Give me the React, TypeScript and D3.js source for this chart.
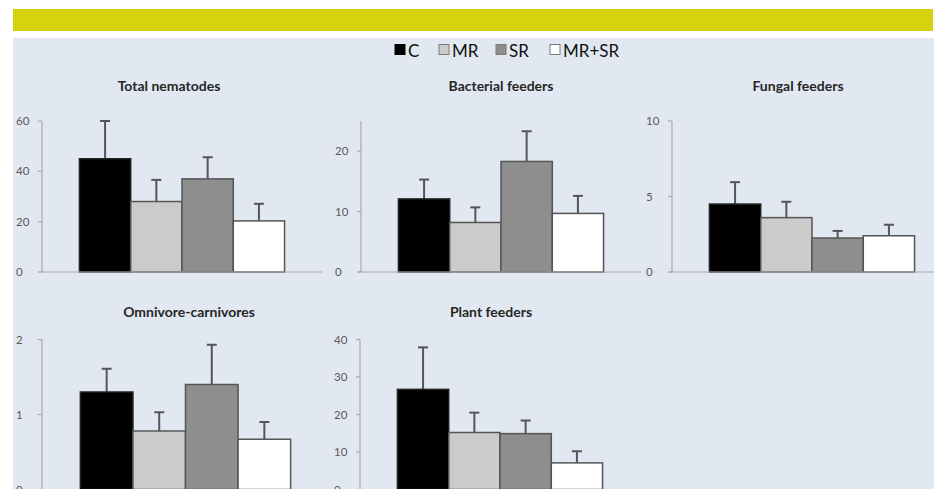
import React from "react";
import { scaleBand, scaleLinear } from "d3";

// Datos: medias y errores por tratamiento
const groups = ["C", "MR", "SR", "MR+SR"];
const titles = [
  "Total nematodes",
  "Bacterial feeders",
  "Fungal feeders",
  "Omnivore-carnivores",
  "Plant feeders",
];
const totalMean = [45, 28, 37, 20.3];
const totalErr = [15, 8.6, 8.6, 6.8];
const bacterialMean = [12.1, 8.2, 18.3, 9.7];
const bacterialErr = [3.2, 2.5, 5.0, 2.9];
const fungalMean = [4.5, 3.6, 2.25, 2.4];
const fungalErr = [1.45, 1.05, 0.47, 0.73];
const omniMean = [1.3, 0.78, 1.4, 0.67];
const omniErr = [0.31, 0.25, 0.53, 0.23];
const plantMean = [26.7, 15.2, 14.9, 7.1];
const plantErr = [11.2, 5.3, 3.5, 3.1];
const yMax = [60, 25, 10, 2, 40];
const yTicks = [
  [0, 20, 40, 60],
  [0, 10, 20],
  [0, 5, 10],
  [0, 1, 2],
  [0, 10, 20, 30, 40],
];

const means = [totalMean, bacterialMean, fungalMean, omniMean, plantMean];
const errs = [totalErr, bacterialErr, fungalErr, omniErr, plantErr];

// Layout de cada panel (eje x, fila, ancho, centro del título)
const layout = [
  { x: 42, row: 0, w: 280, tx: 169 },
  { x: 361, row: 0, w: 280, tx: 501 },
  { x: 672, row: 0, w: 280, tx: 798 },
  { x: 42, row: 1, w: 287, tx: 189 },
  { x: 360, row: 1, w: 280, tx: 491 },
];
const rows = [
  { base: 272, top: 121, title: 91 },
  { base: 489.5, top: 339.5, title: 317 },
];
const legendX = [395, 439, 496, 550];

const fills = ["#000000", "#cbcbcb", "#8e8e8e", "#ffffff"];
const stroke = "#555555";
const axisColor = "#a9a9a9";
const font = "Lato, 'Open Sans', sans-serif";

const App: React.FC = () => {
  return (
    <div style={{ position: "absolute", left: 0, top: 0 }}>
      <svg width={939} height={490} style={{ display: "block" }}>
        <rect x={0} y={0} width={939} height={490} fill="#ffffff" />
        <rect x={13} y={9} width={920} height={22} fill="#d8d20e" />
        <defs>
          <clipPath id="panel">
            <rect x={13} y={38} width={921} height={451} />
          </clipPath>
        </defs>
        <rect x={13} y={38} width={921} height={451} fill="#e1e8f2" />

        {/* Leyenda */}
        {groups.map((g, i) => (
          <g key={g}>
            <rect
              x={legendX[i]}
              y={44.5}
              width={10}
              height={10}
              fill={fills[i]}
              stroke={i === 0 ? "#000" : "#7a7a7a"}
              strokeWidth={1}
            />
            <text
              x={legendX[i] + 13}
              y={57}
              fontFamily={font}
              fontSize={17}
              fill="#111"
            >
              {g}
            </text>
          </g>
        ))}

        <g clipPath="url(#panel)">
          {layout.map((p, k) => {
            const r = rows[p.row];
            const y = scaleLinear().domain([0, yMax[k]]).range([r.base, r.top]);
            const x = scaleBand<string>()
              .domain(groups)
              .range([p.x, p.x + p.w])
              .paddingInner(0)
              .paddingOuter(0.73);
            const bw = x.bandwidth();
            return (
              <g key={k}>
                <text
                  x={p.tx}
                  y={r.title}
                  textAnchor="middle"
                  fontFamily={font}
                  fontWeight={700}
                  fontSize={14}
                  fill="#262626"
                >
                  {titles[k]}
                </text>

                {/* Eje Y */}
                <line
                  x1={p.x}
                  x2={p.x}
                  y1={y(0)}
                  y2={y(yMax[k])}
                  stroke={axisColor}
                  strokeWidth={1.2}
                />
                {yTicks[k].map((t) => (
                  <g key={t}>
                    <line
                      x1={p.x - 4}
                      x2={p.x}
                      y1={y(t)}
                      y2={y(t)}
                      stroke={axisColor}
                      strokeWidth={1.2}
                    />
                    <text
                      x={p.x - 26}
                      y={y(t)}
                      dy="0.35em"
                      fontFamily={font}
                      fontSize={11.5}
                      fill="#595959"
                    >
                      {t}
                    </text>
                  </g>
                ))}

                {/* Barras */}
                {groups.map((g, i) => {
                  const x0 = x(g)!;
                  const top = y(means[k][i]);
                  const eTop = y(means[k][i] + errs[k][i]);
                  return (
                    <g key={g}>
                      <line
                        x1={x0 + bw / 2}
                        x2={x0 + bw / 2}
                        y1={top}
                        y2={eTop}
                        stroke={stroke}
                        strokeWidth={2}
                      />
                      <line
                        x1={x0 + bw / 2 - 5}
                        x2={x0 + bw / 2 + 5}
                        y1={eTop}
                        y2={eTop}
                        stroke={stroke}
                        strokeWidth={2}
                      />
                      <rect
                        x={x0}
                        y={top}
                        width={bw}
                        height={y(0) - top}
                        fill={fills[i]}
                        stroke={i === 0 ? "#222" : stroke}
                        strokeWidth={1.5}
                      />
                    </g>
                  );
                })}

                {/* Eje X */}
                <line
                  x1={p.x - 3}
                  x2={p.x + p.w}
                  y1={y(0)}
                  y2={y(0)}
                  stroke={axisColor}
                  strokeWidth={1.2}
                />
              </g>
            );
          })}
        </g>
      </svg>
    </div>
  );
};

export default App;
